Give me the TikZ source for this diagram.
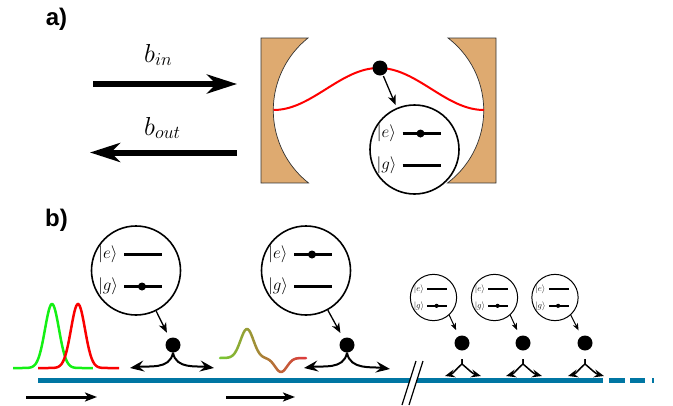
\documentclass[tikz,border=0pt]{standalone}
\usepackage{fix-cm}
\usepackage{fontspec}
\newfontfamily\labelfont{Liberation Sans}
\usetikzlibrary{arrows.meta}

\definecolor{mirror}{RGB}{222,170,112}
\definecolor{guide}{RGB}{0,118,163}
\definecolor{wavestart}{RGB}{120,200,50}
\definecolor{waveend}{RGB}{220,60,60}
\definecolor{pulsegreen}{RGB}{20,240,20}
\definecolor{pulsered}{RGB}{250,0,0}

\tikzset{
  panel/.style={font=\labelfont\bfseries\fontsize{24}{26}\selectfont, inner sep=0pt},
  beam/.style={line width=6pt, -{Stealth[length=30pt,width=19pt,inset=9pt]}},
  beamlabel/.style={font=\fontsize{26}{28}\selectfont, inner sep=0pt, anchor=base west},
  mirrorface/.style={fill=mirror, draw=black!80, line width=0.7pt},
  mode/.style={red, line width=2pt},
  atom/.style={circle, fill=black, minimum size=15pt, inner sep=0pt},
  pointer/.style={line width=1.3pt, -{Stealth[length=10pt,width=8pt,inset=3pt]}},
  smallpointer/.style={line width=1pt, -{Stealth[length=7pt,width=5.5pt,inset=2pt]}},
  emit/.style={line width=2pt, -{Stealth[length=14pt,width=11pt,inset=5pt]}},
  smallemit/.style={line width=1.5pt, -{Stealth[length=10pt,width=8pt,inset=3.5pt]}},
  travel/.style={line width=3pt, -{Stealth[length=12pt,width=9pt,inset=3pt]}},
  guideline/.style={guide, line width=5pt},
  levelcirc/.style={line width=1.6pt},
  levelline/.style={line width=2.6pt},
  levelfont/.style={font=\fontsize{17}{17}\selectfont, inner sep=0pt},
  levels/.pic={
    \node[circle, draw, levelcirc, minimum size=89pt, inner sep=0pt] (-circ) at (0,0) {};
    \node[levelfont] (-e) at (-28,16) {$|e\rangle$};
    \node[levelfont] (-g) at (-28,-16) {$|g\rangle$};
    \draw[levelline] (-12,16) -- (26,16);
    \draw[levelline] (-12,-16) -- (26,-16);
    \fill (6,#1) circle (4);
  },
  smalllevels/.style={scale=0.52, transform shape,
    levelcirc/.style={line width=1pt}, levelline/.style={line width=1.4pt}}
}

\begin{document}
\begin{tikzpicture}[x=1pt,y=1pt,
  declare function={
    pulse(\x,\c)=-368+64*exp(-((\x-\c)^2)/98);
    wave(\x)=-358+29*exp(-((\x-247)^2)/84.5)-14*exp(-((\x-281)^2)/72);
  }]
\useasboundingbox (0,0) rectangle (673,-405);

% ---------------- panel a: atom in a cavity ----------------
\node[panel] (labela) at (56.5,-19.5) {a)};

\coordinate (inS) at (93,-84);
\coordinate (inE) at (237,-84);
\coordinate (outS) at (237,-152.5);
\coordinate (outE) at (90,-152.5);
\draw[beam] (inS) -- (inE);
\draw[beam] (outS) -- (outE);
\node[beamlabel] (bin) at (144,-62) {$b_{in}$};
\node[beamlabel] (bout) at (144,-135) {$b_{out}$};

% concave mirrors
\path[mirrorface] (261,-38) -- (308,-38)
  arc[start angle=128.7, end angle=231.7, radius=92.6pt] -- (261,-183) -- cycle;
\path[mirrorface] (496,-38) -- (448,-38)
  arc[start angle=52.6, end angle=-53, radius=91pt] -- (496,-183) -- cycle;

% cavity mode
\draw[mode] plot[domain=273.5:484, samples=80] (\x, {-89-21*cos(1.71*(\x-273.5))});

\node[atom] (atomA) at (380,-68) {};
\pic (la) at (414.5,-149.5) {levels=16};
\draw[pointer, shorten <=1pt, shorten >=3pt] (atomA) -- (la-circ);

% ---------------- panel b: atoms along a waveguide ----------------
\node[panel] (labelb) at (56.5,-220.5) {b)};

% waveguide
\coordinate (gS) at (38,-380.5);
\coordinate (gE) at (603,-380.5);
\coordinate (dS) at (609,-380.5);
\coordinate (dE) at (654,-380.5);
\draw[guideline] (gS) -- (gE);
\draw[guideline, dash pattern=on 16pt off 5pt on 15pt off 7pt on 2pt off 10pt] (dS) -- (dE);

% break in the waveguide
\fill[white] (411.5,-374) -- (418.5,-374) -- (415,-387) -- (408,-387) -- cycle;
\coordinate (k1a) at (416,-361);
\coordinate (k1b) at (402,-405);
\coordinate (k2a) at (423,-361);
\coordinate (k2b) at (409,-405);
\draw[line width=1.2pt] (k1a) -- (k1b);
\draw[line width=1.2pt] (k2a) -- (k2b);

% incoming pulses
\draw[pulsegreen, line width=2.5pt] plot[domain=13:93, samples=90] (\x, {pulse(\x,52)});
\draw[pulsered, line width=2.5pt] plot[domain=38:119, samples=90] (\x, {pulse(\x,78)});

% reshaped pulse, shading from green to red
\foreach \i in {0,...,42} {
  \pgfmathsetmacro\xa{220+2*\i}
  \pgfmathsetmacro\xb{222+2*\i}
  \pgfmathtruncatemacro\pct{100*\i/42}
  \draw[line width=2.5pt, line cap=round, color=waveend!\pct!wavestart]
    plot[domain=\xa:\xb, samples=4] (\x, {wave(\x)});
}

% propagation arrows
\coordinate (t1S) at (26,-397);
\coordinate (t1E) at (97,-397);
\coordinate (t2S) at (226,-397);
\coordinate (t2E) at (295,-397);
\draw[travel] (t1S) -- (t1E);
\draw[travel] (t2S) -- (t2E);

% first atom: in |g>
\pic (l1) at (136,-270.5) {levels=-16};
\node[atom] (atom1) at (173,-345) {};
\draw[pointer, shorten >=6pt] (l1-circ) -- (atom1);
\coordinate (a1l) at (130,-368);
\coordinate (a1r) at (214,-368);
\draw[emit] (atom1.south) to[out=-100, in=8] (a1l);
\draw[emit] (atom1.south) to[out=-80, in=172] (a1r);

% second atom: in |e>
\pic (l2) at (306,-270.5) {levels=16};
\node[atom] (atom2) at (347,-345) {};
\draw[pointer, shorten >=6pt] (l2-circ) -- (atom2);
\coordinate (a2l) at (304,-368);
\coordinate (a2r) at (390,-369);
\draw[emit] (atom2.south) to[out=-100, in=8] (a2l);
\draw[emit] (atom2.south) to[out=-80, in=172] (a2r);

% further atoms, drawn smaller
\foreach \n/\cx/\ax in {3/433.5/462, 4/494.5/523, 5/555/585} {
  \begin{scope}[shift={(\cx,-297.5)}, smalllevels]
    \pic (l\n) {levels=-16};
  \end{scope}
  \node[atom] (atom\n) at (\ax,-343) {};
  \draw[smallpointer, shorten >=6.5pt] (l\n-circ.-48) -- (atom\n);
  \coordinate (st\n) at (\ax,-359);
  \coordinate (sm\n) at (\ax,-364);
  \coordinate (sl\n) at (\ax-17,-376);
  \coordinate (sr\n) at (\ax+19,-376);
  \draw[smallemit] (st\n) -- (sm\n) to[out=-140, in=15] (sl\n);
  \draw[smallemit] (st\n) -- (sm\n) to[out=-40, in=165] (sr\n);
}
\end{tikzpicture}
\end{document}
